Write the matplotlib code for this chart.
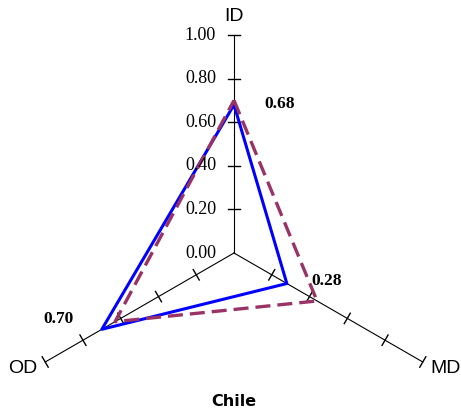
import numpy as np
import matplotlib.pyplot as plt

# radar axes, clockwise from the top
axis_names = ["ID", "MD", "OD"]
axis_angles_deg = [90, -30, 210]
ring_levels = [0.0, 0.2, 0.4, 0.6, 0.8, 1.0]
ring_labels = ["0.00", "0.20", "0.40", "0.60", "0.80", "1.00"]

solid_values = [0.68, 0.28, 0.70]
dashed_values = [0.70, 0.44, 0.63]
value_labels = ["0.68", "0.28", "0.70"]
title = "Chile"

SCALE = 218.0  # pixels per unit radius
W, H = 461, 409
CX, CY = 234, 253


def to_xy(r, ang_deg):
    a = np.deg2rad(ang_deg)
    return r * np.cos(a), r * np.sin(a)


def closed(values):
    xs, ys = [], []
    for v, a in zip(values, axis_angles_deg):
        x, y = to_xy(v, a)
        xs.append(x)
        ys.append(y)
    return xs + xs[:1], ys + ys[:1]


fig = plt.figure(figsize=(W / 100, H / 100), dpi=100)
ax = fig.add_axes([0, 0, 1, 1])
ax.set_xlim(-CX / SCALE, (W - CX) / SCALE)
ax.set_ylim(-(H - CY) / SCALE, CY / SCALE)
ax.set_aspect("equal")
ax.axis("off")

tick_half = 6 / SCALE
for a in axis_angles_deg:
    ex, ey = to_xy(1.0, a)
    ax.plot([0, ex], [0, ey], color="black", lw=0.8, zorder=1)
    px, py = to_xy(tick_half, a + 90)
    for lv in ring_levels[1:]:
        tx, ty = to_xy(lv, a)
        ax.plot([tx - px, tx + px], [ty - py, ty + py], color="black", lw=1.0, zorder=1)

# scale labels along the vertical axis
for lv, lab in zip(ring_levels, ring_labels):
    ax.text(-18 / SCALE, lv, lab, ha="right", va="center",
            family="Liberation Serif", fontsize=13, zorder=4)

xs, ys = closed(dashed_values)
ax.plot(xs, ys, color="#993366", lw=2.4, dashes=(4.5, 2.1), zorder=3)
xs, ys = closed(solid_values)
ax.plot(xs, ys, color="#0000ff", lw=2.2, zorder=2)

name_pos = [(0, 1.083), (0.903, -0.532), (-0.903, -0.532)]
for name, (nx, ny), ha in zip(axis_names, name_pos, ["center", "left", "right"]):
    ax.text(nx, ny, name, ha=ha, va="center", family="Liberation Sans", fontsize=14)

val_pos = [(0.211, 0.683), (0.427, -0.128), (-0.807, -0.303)]
for lab, (vx, vy) in zip(value_labels, val_pos):
    ax.text(vx, vy, lab, ha="center", va="center", family="Liberation Serif",
            fontsize=12.5, fontweight="bold")

ax.text(0, -(402 - CY) / SCALE, title, ha="center", va="center",
        family="DejaVu Sans", fontsize=11.5, fontweight="bold")

fig.savefig("out.png", dpi=100)
